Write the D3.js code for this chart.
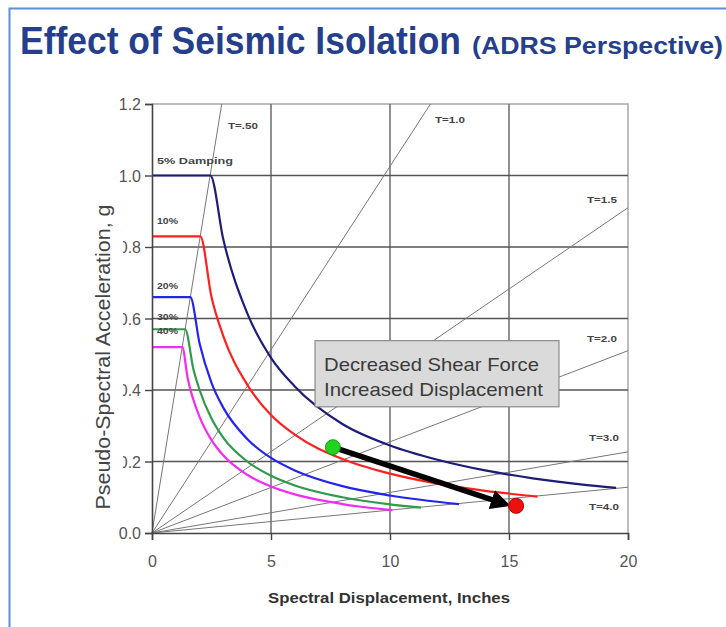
<!DOCTYPE html>
<html><head><meta charset="utf-8">
<script src="https://cdn.jsdelivr.net/npm/d3@7"></script>
<style>
body{margin:0;background:#fff;}
svg{display:block;font-family:"Liberation Sans",Arial,sans-serif;}
</style></head>
<body><svg id="c" width="726" height="627"></svg>
<script>
// ---- data ----
const xTicks = [0, 5, 10, 15, 20];
const yTicks = [0, 0.2, 0.4, 0.6, 0.8, 1.0, 1.2];
const dampingLabels = ["5% Damping", "10%", "20%", "30%", "40%"];
const dampingColors = ["#1c1c7a", "#ff1f1f", "#2424f0", "#2f9a4a", "#f22cf2"];
const spectrum5  = [[0,1.0],[2.45,1.0],[3,0.82],[4,0.615],[5,0.49],[6,0.41],[8,0.305],[10,0.245],[12,0.205],[14,0.175],[16,0.153],[18,0.136],[19.5,0.126]];
const spectrum10 = [[0,0.83],[2.03,0.83],[2.5,0.66],[3,0.55],[4,0.415],[5,0.33],[6,0.275],[8,0.207],[10,0.166],[12,0.138],[14,0.118],[16.2,0.102]];
const spectrum20 = [[0,0.66],[1.61,0.66],[2,0.53],[2.5,0.42],[3,0.35],[4,0.263],[5,0.21],[6,0.175],[8,0.131],[10,0.105],[12.9,0.081]];
const spectrum30 = [[0,0.57],[1.39,0.57],[1.75,0.455],[2,0.40],[2.5,0.32],[3,0.266],[4,0.2],[5,0.16],[6,0.133],[8,0.1],[10,0.08],[11.3,0.071]];
const spectrum40 = [[0,0.52],[1.27,0.52],[1.5,0.433],[2,0.325],[2.5,0.26],[3,0.217],[4,0.163],[5,0.13],[6,0.108],[8,0.081],[10.1,0.064]];
const periodLabels = ["T=.50", "T=1.0", "T=1.5", "T=2.0", "T=3.0", "T=4.0"];
const periodEndSd  = [2.93, 11.7, 20, 20, 20, 20];
const periodEndSa  = [1.2, 1.2, 0.91, 0.51, 0.227, 0.128];
const fixedBase  = [7.6, 0.24];   // green point
const isolated   = [15.3, 0.076]; // red point
const arrowEnd   = [14.75, 0.083];
const noteLines  = ["Decreased Shear Force", "Increased Displacement"];
const noteBox    = [6.85, 0.538, 17.1, 0.353]; // x0,y0,x1,y1 in data units

// ---- layout ----
const svg = d3.select("#c");
const x = d3.scaleLinear().domain([0, 20]).range([152, 628]);
const y = d3.scaleLinear().domain([0, 1.2]).range([533, 104]);

// slide frame
svg.append("rect").attr("x", 9.5).attr("y", 8.5).attr("width", 740).attr("height", 640)
  .attr("fill", "none").attr("stroke", "#5d8fd6").attr("stroke-width", 2);

// title
svg.append("text").attr("x", 20).attr("y", 54).attr("fill", "#253f8c").attr("font-weight", "bold")
  .attr("font-size", 38).attr("textLength", 441).attr("lengthAdjust", "spacingAndGlyphs")
  .text("Effect of Seismic Isolation");
svg.append("text").attr("x", 472).attr("y", 54).attr("fill", "#253f8c").attr("font-weight", "bold")
  .attr("font-size", 23).attr("textLength", 251).attr("lengthAdjust", "spacingAndGlyphs")
  .text("(ADRS Perspective)");

// plot border (top/right)
svg.append("path").attr("d", `M${x(0)},${y(1.2)}H${x(20)}V${y(0)}`)
  .attr("fill", "none").attr("stroke", "#a8a8a8").attr("stroke-width", 1.5);

// gridlines
const grid = svg.append("g").attr("stroke", "#555").attr("stroke-width", 1.3);
xTicks.filter(d => d > 0 && d < 20).forEach(d =>
  grid.append("line").attr("x1", x(d)).attr("x2", x(d)).attr("y1", y(0)).attr("y2", y(1.2)));
yTicks.filter(d => d > 0 && d < 1.2).forEach(d =>
  grid.append("line").attr("x1", x(0)).attr("x2", x(20)).attr("y1", y(d)).attr("y2", y(d)));

// period lines
const pl = svg.append("g");
periodLabels.forEach((lab, i) => {
  pl.append("line").attr("x1", x(0)).attr("y1", y(0))
    .attr("x2", x(periodEndSd[i])).attr("y2", y(periodEndSa[i]))
    .attr("stroke", "#777").attr("stroke-width", 1);
});
const periodLabelPos = [[228,129],[435,123],[587,203],[587,342],[589,441],[589,510]];
periodLabels.forEach((lab, i) => {
  pl.append("text").attr("x", periodLabelPos[i][0]).attr("y", periodLabelPos[i][1])
    .attr("font-size", 9.5).attr("font-weight", "bold").attr("fill", "#444")
    .attr("textLength", 30).attr("lengthAdjust", "spacingAndGlyphs").text(lab);
});

// spectra
const spectra = [spectrum5, spectrum10, spectrum20, spectrum30, spectrum40];
const line = d3.line().x(d => x(d[0])).y(d => y(d[1])).curve(d3.curveMonotoneX);
spectra.forEach((s, i) => {
  svg.append("path").datum(s).attr("d", line).attr("fill", "none")
    .attr("stroke", dampingColors[i]).attr("stroke-width", 2.2);
});
const dampLabelY = [164, 224, 289, 320, 334];
const dampLabelW = [76, 21, 21, 21, 21];
dampingLabels.forEach((lab, i) => {
  svg.append("text").attr("x", 157).attr("y", dampLabelY[i]).attr("font-size", 9.5)
    .attr("font-weight", "bold").attr("fill", "#444")
    .attr("textLength", dampLabelW[i]).attr("lengthAdjust", "spacingAndGlyphs").text(lab);
});

// axes
const xAxis = svg.append("g").attr("transform", `translate(0,${y(0)})`)
  .call(d3.axisBottom(x).tickValues(xTicks).tickSize(7).tickFormat(d3.format("d")));
const yAxis = svg.append("g").attr("transform", `translate(${x(0)},0)`)
  .call(d3.axisLeft(y).tickValues(yTicks).tickSize(7).tickFormat(d3.format(".1f")));
[xAxis, yAxis].forEach(a => {
  a.select(".domain").attr("stroke", "#444").attr("stroke-width", 1.6);
  a.selectAll(".tick line").attr("stroke", "#444").attr("stroke-width", 1.4);
  a.selectAll("text").attr("font-family", "'Liberation Sans',Arial,sans-serif")
    .attr("font-size", 16).attr("fill", "#555");
});
xAxis.selectAll("text").attr("dy", "1.5em");
yAxis.selectAll("text").attr("x", -11).attr("dy", "0.35em");

// axis titles (y title sits in a white box that overlaps the tick labels, as in the original)
svg.append("rect").attr("x", 90).attr("y", 200).attr("width", 33).attr("height", 315).attr("fill", "#fff");
svg.append("text").attr("x", 389).attr("y", 603).attr("text-anchor", "middle")
  .attr("font-size", 15.5).attr("font-weight", "bold").attr("fill", "#333")
  .attr("textLength", 242).attr("lengthAdjust", "spacingAndGlyphs")
  .text("Spectral Displacement, Inches");
svg.append("text").attr("transform", `translate(110,357) rotate(-90)`)
  .attr("text-anchor", "middle").attr("font-size", 20).attr("fill", "#444")
  .attr("textLength", 305).attr("lengthAdjust", "spacingAndGlyphs")
  .text("Pseudo-Spectral Acceleration, g");

// note box
const nb = svg.append("g");
nb.append("rect").attr("x", x(noteBox[0])).attr("y", y(noteBox[1]))
  .attr("width", x(noteBox[2]) - x(noteBox[0])).attr("height", y(noteBox[3]) - y(noteBox[1]))
  .attr("fill", "#dadada").attr("stroke", "#8a8a8a").attr("stroke-width", 1.2);
const noteW = [215, 219];
noteLines.forEach((t, i) => {
  nb.append("text").attr("x", x(noteBox[0]) + 9).attr("y", y(noteBox[1]) + 30 + i * 25)
    .attr("font-size", 18.5).attr("fill", "#3a3a3a")
    .attr("textLength", noteW[i]).attr("lengthAdjust", "spacingAndGlyphs").text(t);
});

// arrow
svg.append("defs").append("marker").attr("id", "ah").attr("viewBox", "0 0 10 10")
  .attr("refX", 6).attr("refY", 5).attr("markerWidth", 3.6).attr("markerHeight", 3.6)
  .attr("orient", "auto").append("path").attr("d", "M0,0L10,5L0,10Z").attr("fill", "#000");
svg.append("line").attr("x1", x(fixedBase[0])).attr("y1", y(fixedBase[1]))
  .attr("x2", x(arrowEnd[0])).attr("y2", y(arrowEnd[1]))
  .attr("stroke", "#000").attr("stroke-width", 5.5).attr("marker-end", "url(#ah)");
svg.append("circle").attr("cx", x(fixedBase[0])).attr("cy", y(fixedBase[1])).attr("r", 7.5)
  .attr("fill", "#1fd41f").attr("stroke", "#1a9a1a").attr("stroke-width", 1);
svg.append("circle").attr("cx", x(isolated[0])).attr("cy", y(isolated[1])).attr("r", 7.5)
  .attr("fill", "#ee1010").attr("stroke", "#b00").attr("stroke-width", 1);
</script></body></html>
